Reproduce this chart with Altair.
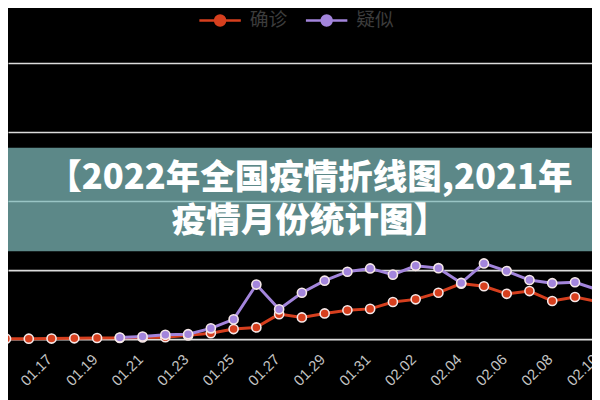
import altair as alt
import pandas as pd

# ---- data ----
dates = ["01.15", "01.16", "01.17", "01.18", "01.19", "01.20", "01.21", "01.22", "01.23",
         "01.24", "01.25", "01.26", "01.27", "01.28", "01.29", "01.30", "01.31", "02.01",
         "02.02", "02.03", "02.04", "02.05", "02.06", "02.07", "02.08", "02.09", "02.10"]
series_names = ["确诊", "疑似"]
confirmed = [10, 10, 20, 40, 60, 70, 100, 120, 250, 410, 710, 830, 1790, 1550, 1840, 2070,
             2170, 2670, 2860, 3340, 4000, 3810, 3260, 3460, 2740, 3030, 2700]
suspected = [None, None, None, None, None, 100, 170, 290, 340, 760, 1410, 3930, 2140, 3340,
             4210, 4860, 5100, 4650, 5290, 5120, 4050, 5460, 4910, 4260, 4030, 4100, 3550]
grid_values = [0, 5000, 10000, 15000, 20000]
tick_labels = dates[::2]
title_lines = ["【2022年全国疫情折线图,2021年", "疫情月份统计图】"]

colors = ["#d63f1e", "#a385dc"]

# ---- layout ----
W, H = 592, 392
y_dom = [-4236, 23764]
x_dom = [0.0867, 25.748]

rows = []
for name, vals in zip(series_names, [confirmed, suspected]):
    for i, (d, v) in enumerate(zip(dates, vals)):
        rows.append({"i": i, "date": d, "value": v, "series": name})
df = pd.DataFrame(rows)

lab_df = pd.DataFrame({"i": [dates.index(t) for t in tick_labels], "label": tick_labels})

x_enc = alt.X("i:Q", scale=alt.Scale(domain=x_dom, nice=False, zero=False), axis=None)
y_enc = alt.Y("value:Q", scale=alt.Scale(domain=y_dom, nice=False, zero=False),
              axis=alt.Axis(values=grid_values, grid=True, gridColor="#dcdcdc", gridWidth=1.6,
                            labels=False, ticks=False, domain=False, title=None))

base = alt.Chart(df)
layers = []
for name, c in zip(series_names, colors):
    sub = base.transform_filter(alt.datum.series == name).transform_filter("isValid(datum.value)")
    layers.append(sub.mark_line(color=c, strokeWidth=3).encode(x=x_enc, y=y_enc))
    layers.append(sub.mark_point(shape="circle", filled=True, fill=c, stroke="#f6e8e8",
                                 strokeWidth=1.6, size=85, opacity=1).encode(x=x_enc, y=y_enc))

labels = alt.Chart(lab_df).mark_text(angle=315, align="right", baseline="middle", fontSize=15,
                                     font="Liberation Sans", color="#c4c4c4", dx=-3).encode(
    x=x_enc, y=alt.value(357 - 8), text="label:N")
layers.append(labels)

# legend (manual, ECharts style line + circle)
one = pd.DataFrame({"a": [0]})
for k, (name, c) in enumerate(zip(series_names, colors)):
    cx = 215 + k * 108
    layers.append(alt.Chart(one).mark_rule(color=c, strokeWidth=2.5).encode(
        x=alt.value(cx - 21), x2=alt.value(cx + 21), y=alt.value(10)))
    layers.append(alt.Chart(one).mark_point(shape="circle", filled=True, fill=c, size=160,
                                            opacity=1).encode(x=alt.value(cx), y=alt.value(10)))
    layers.append(alt.Chart(pd.DataFrame({"t": [name]})).mark_text(
        align="left", baseline="middle", fontSize=19, font="Noto Sans CJK SC",
        color="#3c3c3c").encode(x=alt.value(cx + 30), y=alt.value(10), text="t:N"))

# banner overlay
layers.append(alt.Chart(one).mark_rect(fill="#80bcbc", opacity=0.72).encode(
    x=alt.value(-8), x2=alt.value(W), y=alt.value(147 - 8), y2=alt.value(252 - 8)))
for ln, yy in zip(title_lines, [178 - 8, 221.5 - 8]):
    layers.append(alt.Chart(pd.DataFrame({"t": [ln]})).mark_text(
        align="center", baseline="middle", fontSize=35, fontWeight=900,
        font="Noto Sans CJK SC", color="#ffffff").encode(
        x=alt.value(306), y=alt.value(yy), text="t:N"))

chart = alt.layer(*layers).properties(
    width=W, height=H,
    autosize=alt.AutoSizeParams(type="none"),
    padding={"left": 0, "right": 0, "top": 0, "bottom": 0},
    background="#000000",
).configure_view(stroke=None)

chart.save("out.html", embed_options={"renderer": "svg", "actions": False})
